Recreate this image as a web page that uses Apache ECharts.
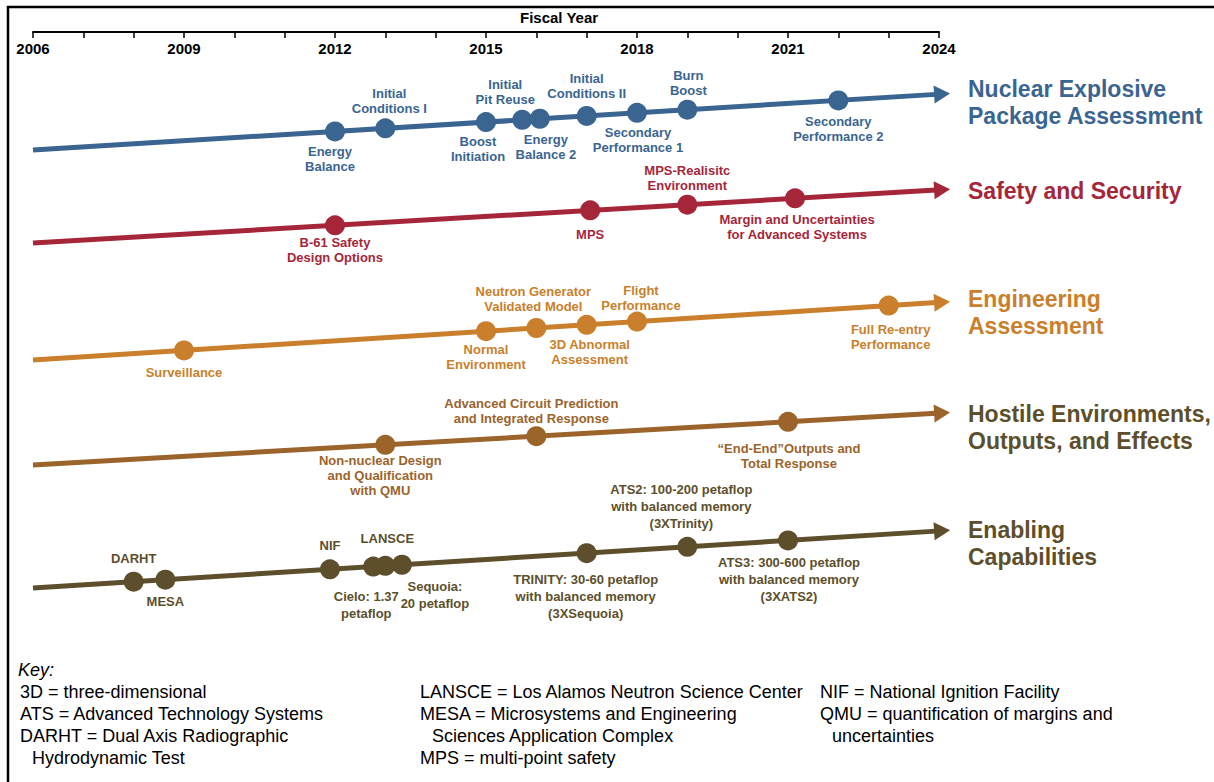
<!DOCTYPE html>
<html><head><meta charset="utf-8">
<script src="https://cdn.jsdelivr.net/npm/echarts@6/dist/echarts.min.js"></script>
<style>html,body{margin:0;padding:0;background:#fff}#c{width:1214px;height:782px}</style>
</head><body><div id="c"></div>
<script>
// ---------------- DATA ----------------
const fiscalYearTicks = [2006, 2009, 2012, 2015, 2018, 2021, 2024];
const trackNames = ['Nuclear Explosive\nPackage Assessment', 'Safety and Security', 'Engineering\nAssessment', 'Hostile Environments,\nOutputs, and Effects', 'Enabling\nCapabilities'];

const nuclearLabels = ['Energy\nBalance', 'Initial\nConditions I', 'Boost\nInitiation', 'Initial\nPit Reuse', 'Energy\nBalance 2', 'Initial\nConditions II', 'Secondary\nPerformance 1', 'Burn\nBoost', 'Secondary\nPerformance 2'];
const nuclearYears  = [2012, 2013, 2015, 2015.72, 2016.07, 2017, 2018, 2019, 2022];

const safetyLabels = ['B-61 Safety\nDesign Options', 'MPS', 'MPS-Realisitc\nEnvironment', 'Margin and Uncertainties\nfor Advanced Systems'];
const safetyYears  = [2012, 2017.07, 2019, 2021.14];

const engineeringLabels = ['Surveillance', 'Normal\nEnvironment', 'Neutron Generator\nValidated Model', '3D Abnormal\nAssessment', 'Flight\nPerformance', 'Full Re-entry\nPerformance'];
const engineeringYears  = [2009, 2015, 2016, 2017, 2018, 2023];

const hostileLabels = ['Non-nuclear Design\nand Qualification\nwith QMU', 'Advanced Circuit Prediction\nand Integrated Response', '\u201cEnd-End\u201dOutputs and\nTotal Response'];
const hostileYears  = [2013, 2016, 2021];

const enablingLabels = ['DARHT', 'MESA', 'NIF', 'Cielo: 1.37\npetaflop', 'LANSCE', 'Sequoia:\n20 petaflop', 'TRINITY: 30-60 petaflop\nwith balanced memory\n(3XSequoia)', 'ATS2: 100-200 petaflop\nwith balanced memory\n(3XTrinity)', 'ATS3: 300-600 petaflop\nwith balanced memory\n(3XATS2)'];
const enablingYears  = [2008, 2008.63, 2011.9, 2012.76, 2013, 2013.33, 2017, 2019, 2021];

const keyColumn1 = ['3D = three-dimensional', 'ATS = Advanced Technology Systems', 'DARHT = Dual Axis Radiographic', '  Hydrodynamic Test'];
const keyColumn2 = ['LANSCE = Los Alamos Neutron Science Center', 'MESA = Microsystems and Engineering', '  Sciences Application Complex', 'MPS = multi-point safety'];
const keyColumn3 = ['NIF = National Ignition Facility', 'QMU = quantification of margins and', '  uncertainties'];

// ---------------- LAYOUT / STYLE ----------------
const startYear = 2006, tipYear = 2024.22;
const lanes = [
  { y0: 150, slope: -3.10, color: '#3a6591', title: '#3a6591', titleTop: 75 },
  { y0: 243, slope: -2.95, color: '#a62639', title: '#a62639', titleTop: 177 },
  { y0: 360, slope: -3.20, color: '#c97f2b', title: '#c97f2b', titleTop: 285 },
  { y0: 465, slope: -2.88, color: '#9b642b', title: '#5d4f2b', titleTop: 400 },
  { y0: 588, slope: -3.17, color: '#5d4f2b', title: '#5d4f2b', titleTop: 516 }
];
// [position a=above/b=below, dx, gap from marker centre to text edge]
const labelLayouts = [
  [['b',-5,12.5],['a',4,12.5],['b',-8,11.5],['a',-17,12.5],['b',6,13.5],['a',0,14.5],['b',1,12.5],['a',1,11.5],['b',0,13.5]],
  [['b',0,10],['b',0,17],['a',0,11.5],['b',2,13.5]],
  [['b',0,14.5],['b',0,10.5],['a',-3,14.5],['b',3,12.5],['a',4,8.5],['b',2,16.5]],
  [['b',-5,8.5],['a',-5,10.5],['b',1,19.5]],
  [['a',0,14.5],['b',0,13.5],['a',0,15.5],['b',-7,21.5],['a',2,18.5],['b',33,13.5],['b',-1,17.5],['a',-6,14.5],['b',1,13.5]]
];
const trackLabels = [nuclearLabels, safetyLabels, engineeringLabels, hostileLabels, enablingLabels];
const trackYears = [nuclearYears, safetyYears, engineeringYears, hostileYears, enablingYears];
const SANS = "'Liberation Sans',Arial,sans-serif";
const MARK = 20;

const chart = echarts.init(document.getElementById('c'), null, { renderer: 'svg' });

const series = [];
lanes.forEach((ln, i) => {
  const yAt = yr => ln.y0 + ln.slope * (yr - startYear);
  series.push({
    type: 'custom', silent: true, z: 1,
    data: [[startYear, ln.y0, tipYear, yAt(tipYear)]],
    renderItem: (params, api) => {
      const p0 = api.coord([api.value(0), api.value(1)]);
      const p1 = api.coord([api.value(2), api.value(3)]);
      const dx = p1[0] - p0[0], dy = p1[1] - p0[1];
      const L = Math.sqrt(dx * dx + dy * dy), ux = dx / L, uy = dy / L;
      const aL = 16, aW = 9;
      const bx = p1[0] - ux * aL, by = p1[1] - uy * aL;
      return { type: 'group', children: [
        { type: 'line', shape: { x1: p0[0], y1: p0[1], x2: bx + ux * 2, y2: by + uy * 2 }, style: { stroke: ln.color, lineWidth: 5 } },
        { type: 'polygon', shape: { points: [[p1[0], p1[1]], [bx - uy * aW, by + ux * aW], [bx + uy * aW, by - ux * aW]] }, style: { fill: ln.color } }
      ]};
    }
  });
  const lay = labelLayouts[i];
  const lh = i === 4 ? 17 : 15;
  series.push({
    type: 'scatter', z: 3, symbol: 'circle', symbolSize: MARK,
    itemStyle: { color: ln.color, opacity: 1 },
    silent: true,
    data: trackYears[i].map((yr, k) => ({
      value: [yr, yAt(yr)],
      name: trackLabels[i][k],
      label: {
        show: true, formatter: trackLabels[i][k],
        position: lay[k][0] === 'a' ? 'top' : 'bottom', distance: 0,
        offset: [lay[k][1], lay[k][0] === 'a' ? -(lay[k][2] - MARK / 2) : (lay[k][2] - MARK / 2)],
        color: ln.color, fontFamily: SANS, fontWeight: 'bold', fontSize: 13, lineHeight: lh, align: 'center'
      }
    }))
  });
});

const graphics = [
  { type: 'rect', shape: { x: 8, y: 7, width: 1230, height: 800 }, style: { fill: 'none', stroke: '#000', lineWidth: 2.5 }, z: 10 },
  { type: 'text', left: 520, top: 10, style: { text: 'Fiscal Year', font: 'bold 15px ' + SANS, fill: '#000' } }
];
lanes.forEach((ln, i) => {
  graphics.push({ type: 'text', left: 968, top: ln.titleTop, style: { text: trackNames[i], font: 'bold 23px ' + SANS, fill: ln.title, lineHeight: 27 } });
});
graphics.push({ type: 'text', left: 18, top: 661, style: { text: 'Key:', font: 'italic 18px ' + SANS, fill: '#000' } });
[[keyColumn1, 20], [keyColumn2, 420], [keyColumn3, 820]].forEach(([col, x]) => {
  col.forEach((t, k) => {
    const indent = t.startsWith('  ') ? 12 : 0;
    graphics.push({ type: 'text', left: x + indent, top: 683 + k * 22, style: { text: t.trim(), font: '18px ' + SANS, fill: '#000' } });
  });
});

chart.setOption({
  animation: false,
  backgroundColor: '#fff',
  grid: { left: 33, right: 1214 - 939, top: 32, bottom: 0, containLabel: false },
  xAxis: {
    type: 'value', position: 'top', min: 2006, max: 2024, interval: 1,
    axisLine: { show: true, lineStyle: { color: '#000', width: 2 } },
    axisTick: { show: true, inside: true, length: 6, lineStyle: { color: '#000', width: 1.5 } },
    axisLabel: { inside: true, margin: 9, color: '#000', fontFamily: SANS, fontWeight: 'bold', fontSize: 15,
      showMinLabel: true, showMaxLabel: true,
      formatter: v => fiscalYearTicks.includes(v) ? String(v) : '' },
    splitLine: { show: false }
  },
  yAxis: { type: 'value', min: 32, max: 782, inverse: true, show: false },
  series: series,
  graphic: graphics
});
</script></body></html>
